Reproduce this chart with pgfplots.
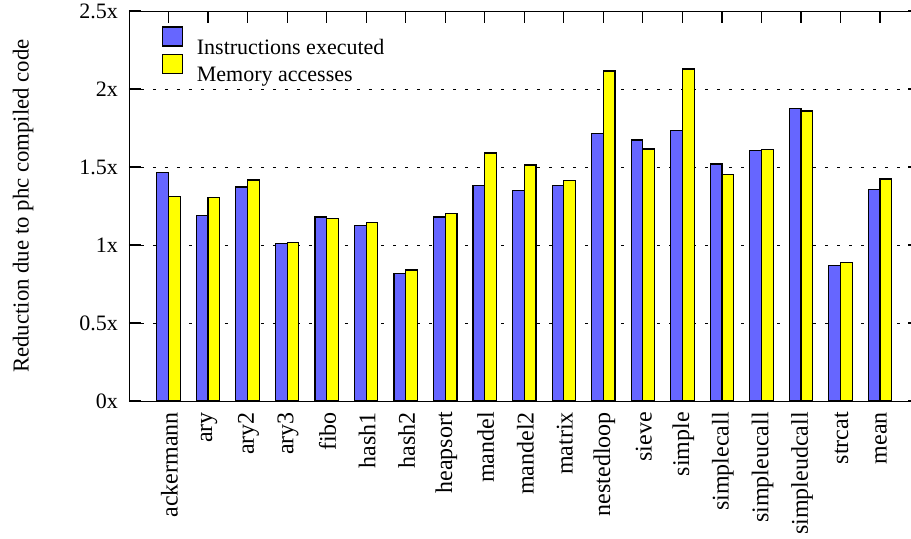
\documentclass[border=0pt]{standalone}
\usepackage{fontspec}
\setmainfont{Liberation Serif}
\usepackage{pgfplots}
\pgfplotsset{compat=1.18}
\definecolor{gpblue}{RGB}{102,102,255}
\definecolor{gpyellow}{RGB}{255,255,0}
\begin{document}
\begin{tikzpicture}[font=\fontsize{11}{13}\selectfont]
\begin{axis}[
  x=19.765pt, y=78pt,
  xmin=-1, xmax=19,
  ymin=0, ymax=2.5,
  ybar=0pt, bar width=5.85pt,
  xtick={0,...,18},
  xticklabels={ackermann,ary,ary2,ary3,fibo,hash1,hash2,heapsort,mandel,mandel2,matrix,nestedloop,sieve,simple,simplecall,simpleucall,simpleudcall,strcat,mean},
  x tick label style={rotate=90, anchor=east, yshift=-0.5pt, font=\fontsize{12}{14}\selectfont},
  xticklabel shift=2pt,
  ytick={0,0.5,1,1.5,2,2.5},
  yticklabels={0x,0.5x,1x,1.5x,2x,2.5x},
  yticklabel shift=2pt,
  tick align=inside,
  major tick length=6pt,
  major tick style={draw=black, line width=0.6pt},
  ymajorgrids,
  major grid style={black, line width=0.5pt, dash pattern=on 1.5pt off 4.5pt},
  ylabel={Reduction due to phc compiled code},
  every axis y label/.style={at={(axis description cs:-0.134,0.5)}, rotate=90, anchor=center, font=\fontsize{11.4}{13}\selectfont},
  legend image code/.code={\draw[#1,/tikz/.cd] (0pt,1pt) rectangle (10pt,10.5pt); \path[draw=none,fill=none] (0pt,0pt) -- (15pt,0pt);},
  legend style={at={(axis description cs:0.034,0.972)}, anchor=north west, draw=none, fill=none, legend cell align=left, row sep=-3.5pt},
]
\addplot[draw=black, line width=0.6pt, fill=gpblue] coordinates {
(0,1.463) (1,1.19) (2,1.372) (3,1.008) (4,1.179) (5,1.126) (6,0.818) (7,1.179) (8,1.382) (9,1.348)
(10,1.382) (11,1.716) (12,1.673) (13,1.733) (14,1.519) (15,1.605) (16,1.874) (17,0.870) (18,1.357)};
\addplot[draw=black, line width=0.6pt, fill=gpyellow] coordinates {
(0,1.310) (1,1.306) (2,1.417) (3,1.017) (4,1.169) (5,1.145) (6,0.840) (7,1.203) (8,1.590) (9,1.513)
(10,1.412) (11,2.115) (12,1.615) (13,2.128) (14,1.451) (15,1.613) (16,1.859) (17,0.889) (18,1.423)};
\legend{Instructions executed, Memory accesses}
\end{axis}
\pgfresetboundingbox
\path[use as bounding box] (-64.5pt,-68.5pt) rectangle (391pt,200.5pt);
\end{tikzpicture}
\end{document}
